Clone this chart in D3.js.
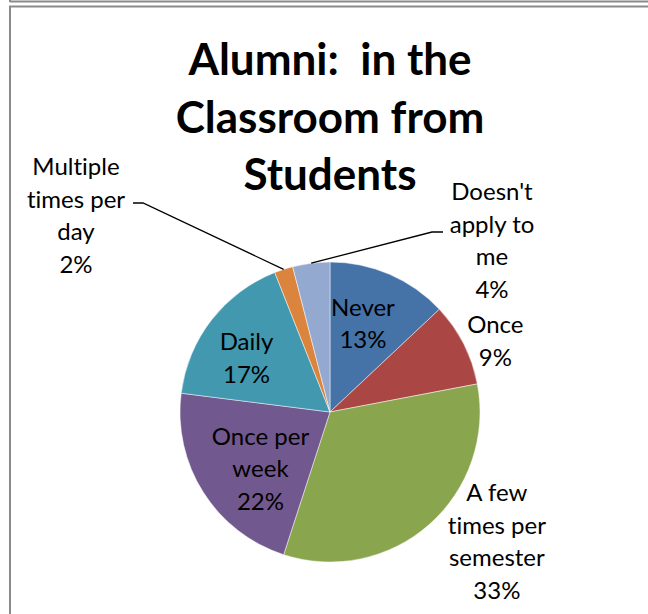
<!DOCTYPE html>
<html>
<head>
<meta charset="utf-8">
<script src="https://cdn.jsdelivr.net/npm/d3@7/dist/d3.min.js"></script>
<style>
  html, body { margin: 0; padding: 0; background: #fff; }
  svg { display: block; }
  text { font-family: Lato, "Open Sans", sans-serif; fill: #000; font-variant-ligatures: none; }
</style>
</head>
<body>
<svg id="chart" width="648" height="614"></svg>
<script>
// Survey responses: how often alumni come into the classroom (per students)
const categories = ["Never", "Once", "A few times per semester", "Once per week", "Daily", "Multiple times per day", "Doesn't apply to me"];
const values = [13, 9, 33, 22, 17, 2, 4];
const labelLines = [
  ["Never", "13%"],
  ["Once", "9%"],
  ["A few", "times per", "semester", "33%"],
  ["Once per", "week", "22%"],
  ["Daily", "17%"],
  ["Multiple", "times per", "day", "2%"],
  ["Doesn't", "apply to", "me", "4%"]
];
const colors = ["#4572A7", "#AA4643", "#89A54E", "#71588F", "#4198AF", "#DB843D", "#93A9CF"];
const titleLines = ["Alumni:  in the", "Classroom from", "Students"];

// Label placement: radius factor along the slice's mid-angle, plus nudges.
// Labels with a leader sit at a fixed spot and are joined to their slice by a line.
const labelLayout = [
  { k: 0.62, dx: -4, dy: -3 },
  { k: 1.2, dx: 5, dy: 11 },
  { k: 1.4, dx: 28, dy: -28 },
  { k: 0.62, dx: 9, dy: 7 },
  { k: 0.62, dx: -10, dy: 3 },
  { abs: true, x: 76, y: 215.5, leader: { ex: 143, ey: 203, tx: 133 } },
  { abs: true, x: 492, y: 240.5, leader: { ex: 432, ey: 232, tx: 443 } }
];

const svg = d3.select("#chart");
const W = 648, H = 614;
const cx = 330, cy = 412, R = 150;
const fontSize = 24, lineH = 32.5;

// Chart frame edges
const frame = svg.append("g").attr("fill", "none").attr("stroke", "#8a8a8a").attr("stroke-width", 2);
frame.append("path").attr("d", `M10,0V2M10,1.5H${W}`);
frame.append("path").attr("d", `M${W},6.5H10V${H}`);

// Title
const title = svg.append("text")
  .attr("text-anchor", "middle")
  .attr("font-weight", "bold")
  .attr("font-size", 44)
  .style("white-space", "pre");
titleLines.forEach((t, i) => {
  title.append("tspan").attr("x", cx).attr("y", 75 + i * 57.5).text(t);
});

// Pie
const pie = d3.pie().sort(null).value(d => d)(values);
const arc = d3.arc().innerRadius(0).outerRadius(R);
const g = svg.append("g").attr("transform", `translate(${cx},${cy})`);
g.selectAll("path.slice")
  .data(pie)
  .join("path")
  .attr("class", "slice")
  .attr("d", arc)
  .attr("fill", (d, i) => colors[i])
  .attr("stroke", "#ffffff")
  .attr("stroke-opacity", 0.6)
  .attr("stroke-width", 0.8);

// Labels and leader lines
pie.forEach((d, i) => {
  const L = labelLayout[i];
  const mid = (d.startAngle + d.endAngle) / 2;
  let x, y;
  if (L.abs) {
    x = L.x; y = L.y;
    const ax = cx + Math.sin(mid) * R, ay = cy - Math.cos(mid) * R;
    svg.append("path")
      .attr("d", `M${ax},${ay}L${L.leader.ex},${L.leader.ey}H${L.leader.tx}`)
      .attr("fill", "none")
      .attr("stroke", "#000")
      .attr("stroke-width", 1.3);
  } else {
    const c = d3.arc().innerRadius(R * L.k).outerRadius(R * L.k).centroid(d);
    x = cx + c[0] + L.dx; y = cy + c[1] + L.dy;
  }
  const lines = labelLines[i];
  const t = svg.append("text")
    .attr("text-anchor", "middle")
    .attr("font-size", fontSize);
  const y0 = y - (lines.length - 1) * lineH / 2 + 8.3;
  lines.forEach((s, j) => {
    t.append("tspan").attr("x", x).attr("y", y0 + j * lineH).text(s);
  });
});
</script>
</body>
</html>
